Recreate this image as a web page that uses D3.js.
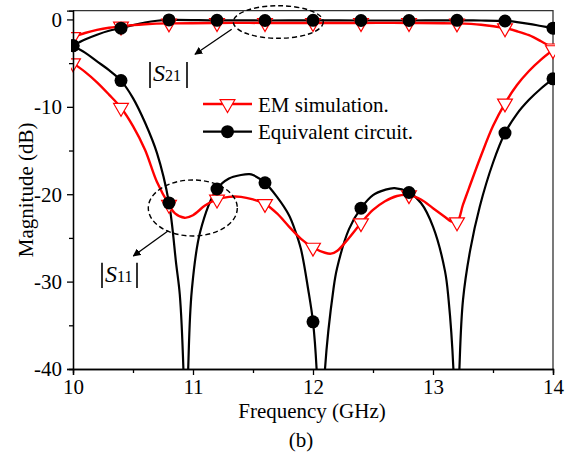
<!DOCTYPE html>
<html>
<head>
<meta charset="utf-8">
<script src="https://cdn.jsdelivr.net/npm/d3@7/dist/d3.min.js"></script>
<style>
body { margin: 0; background: #fff; }
svg text { font-family: "Liberation Serif", "Times New Roman", serif; fill: #000; }
</style>
</head>
<body>
<div id="graphic"></div>
<script>
// Data (GHz, dB)
var freqS21Em = [10, 10.1, 10.2, 10.3, 10.4, 10.5, 10.6, 10.8, 11.2, 11.6, 12.0, 12.4, 12.8, 13.2, 13.4, 13.6, 13.7, 13.8, 13.9, 14];
var valS21Em = [-2.0, -1.55, -1.2, -0.95, -0.8, -0.65, -0.55, -0.45, -0.4, -0.4, -0.4, -0.4, -0.4, -0.45, -0.6, -1.0, -1.35, -1.8, -2.5, -3.3];

var freqS21Eq = [10, 10.1, 10.2, 10.3, 10.4, 10.5, 10.6, 10.7, 10.8, 11.2, 11.6, 12.0, 12.4, 12.8, 13.2, 13.4, 13.6, 13.7, 13.8, 13.9, 14];
var valS21Eq = [-3.0, -2.3, -1.75, -1.3, -1.0, -0.65, -0.35, -0.15, -0.05, -0.1, -0.12, -0.1, -0.12, -0.12, -0.1, -0.12, -0.18, -0.3, -0.5, -0.75, -1.0];

var freqS11Em = [10, 10.1, 10.2, 10.3, 10.4, 10.5, 10.6, 10.7, 10.8, 10.85, 10.93, 11.0, 11.1, 11.2, 11.3, 11.4, 11.5, 11.6, 11.7, 11.8, 11.9, 12.0, 12.1, 12.15, 12.2, 12.3, 12.4, 12.5, 12.6, 12.7, 12.8, 12.9, 13.0, 13.1, 13.15, 13.2, 13.25, 13.3, 13.4, 13.5, 13.6, 13.7, 13.8, 13.9, 14];
var valS11Em = [-5.0, -6.0, -7.2, -8.6, -10.1, -12.2, -14.9, -18.6, -21.2, -22.2, -22.7, -22.4, -21.3, -20.6, -20.3, -20.3, -20.6, -21.1, -22.2, -23.7, -25.1, -26.1, -26.7, -26.8, -26.5, -25.0, -23.3, -21.8, -20.8, -20.2, -20.1, -20.6, -21.6, -22.6, -23.1, -23.2, -21.2, -19.3, -15.6, -12.2, -9.6, -7.5, -5.9, -4.6, -3.5];

var freqS11Eq = [10, 10.1, 10.2, 10.3, 10.4, 10.5, 10.6, 10.7, 10.8, 10.86, 10.89, 10.92, 10.94, 10.96, 10.99, 11.06, 11.2, 11.3, 11.4, 11.47, 11.5, 11.6, 11.7, 11.8, 11.85, 11.9, 11.96, 12.0, 12.03, 12.065, 12.1, 12.17, 12.2, 12.3, 12.4, 12.5, 12.6, 12.68, 12.8, 12.9, 13.0, 13.1, 13.13, 13.17, 13.195, 13.22, 13.25, 13.31, 13.39, 13.5, 13.6, 13.7, 13.8, 13.9, 14];
var valS11Eq = [-3.0, -3.8, -4.8, -5.8, -7.0, -9.0, -11.8, -15.3, -21.0, -28.0, -31.5, -40, -55, -40, -31, -24.3, -19.4, -18.2, -17.8, -17.7, -17.8, -18.7, -20.3, -22.4, -24.1, -26.3, -30.9, -34.6, -40, -55, -40, -30.9, -28.5, -24.0, -21.6, -20.1, -19.5, -19.3, -19.8, -21.0, -23.7, -28.8, -32.1, -40, -55, -40, -32.1, -26.4, -21.4, -16.4, -13.0, -10.8, -9.2, -7.9, -6.8];

var markerFreqs = [10, 10.4, 10.8, 11.2, 11.6, 12.0, 12.4, 12.8, 13.2, 13.6, 14];

var xTicks = [10, 11, 12, 13, 14];
var xMinorTicks = [10.5, 11.5, 12.5, 13.5];
var yTicks = [0, -10, -20, -30, -40];
var yMinorTicks = [-5, -15, -25, -35];

var legendLabels = ['EM simulation.', 'Equivalent circuit.'];

var RED = '#ff0000';
var FONT = '21px';

/*
 * Zip a frequency list and a value list into points.
 */
var toPoints = function(freqs, vals) {
    return freqs.map(function(f, i) { return { f: f, v: vals[i] }; });
}

var pickMarkers = function(points) {
    return points.filter(function(p) {
        return markerFreqs.some(function(m) { return Math.abs(m - p.f) < 1e-6; });
    });
}

/*
 * Render the graphic.
 */
var renderGraphic = function() {
    var width = 574,
        height = 453;

    var plot = { left: 73, right: 553, top: 10.7, bottom: 369 };

    var svg = d3.select('#graphic').append('svg')
        .attr('width', width)
        .attr('height', height);

    var xScale = d3.scaleLinear().domain([10, 14]).range([plot.left, plot.right]);
    var yScale = d3.scaleLinear().domain([-40, 1]).range([plot.bottom, plot.top]);

    svg.append('clipPath')
        .attr('id', 'plot-clip')
        .append('rect')
        .attr('x', plot.left)
        .attr('y', plot.top)
        .attr('width', plot.right - plot.left)
        .attr('height', plot.bottom - plot.top);

    svg.append('clipPath')
        .attr('id', 'marker-clip')
        .append('rect')
        .attr('x', plot.left - 2)
        .attr('y', plot.top)
        .attr('width', plot.right - plot.left + 4)
        .attr('height', plot.bottom - plot.top);

    // frame (top + right)
    svg.append('path')
        .attr('d', 'M' + plot.left + ',' + plot.top + 'H' + plot.right + 'V' + plot.bottom)
        .attr('fill', 'none')
        .attr('stroke', '#333')
        .attr('stroke-width', 1.3);

    var line = d3.line()
        .x(function(d) { return xScale(d.f); })
        .y(function(d) { return yScale(d.v); })
        .curve(d3.curveCatmullRom.alpha(0.5));

    var s21Em = toPoints(freqS21Em, valS21Em),
        s11Em = toPoints(freqS11Em, valS11Em),
        s21Eq = toPoints(freqS21Eq, valS21Eq),
        s11Eq = toPoints(freqS11Eq, valS11Eq);

    var lines = svg.append('g').attr('clip-path', 'url(#plot-clip)');

    [s21Eq, s11Eq].forEach(function(pts) {
        lines.append('path')
            .datum(pts)
            .attr('d', line)
            .attr('fill', 'none')
            .attr('stroke', '#000')
            .attr('stroke-width', 2.2);
    });

    [s21Em, s11Em].forEach(function(pts) {
        lines.append('path')
            .datum(pts)
            .attr('d', line)
            .attr('fill', 'none')
            .attr('stroke', RED)
            .attr('stroke-width', 2.4);
    });

    var tri = d3.symbol().type(d3.symbolTriangle).size(95);

    var markers = svg.append('g').attr('clip-path', 'url(#marker-clip)');

    markers.selectAll('path.tri')
        .data(pickMarkers(s21Em).concat(pickMarkers(s11Em)))
        .enter().append('path')
        .attr('class', 'tri')
        .attr('d', tri)
        .attr('transform', function(d) { return 'translate(' + xScale(d.f) + ',' + yScale(d.v) + ') rotate(180)'; })
        .attr('fill', '#fff')
        .attr('stroke', RED)
        .attr('stroke-width', 1.2);

    markers.selectAll('circle')
        .data(pickMarkers(s21Eq).concat(pickMarkers(s11Eq)))
        .enter().append('circle')
        .attr('cx', function(d) { return xScale(d.f); })
        .attr('cy', function(d) { return yScale(d.v); })
        .attr('r', 6.5)
        .attr('fill', '#000');

    // Axes
    var xAxis = svg.append('g')
        .attr('transform', 'translate(0,' + plot.bottom + ')')
        .call(d3.axisBottom(xScale).tickValues(xTicks).tickSize(6).tickFormat(d3.format('d')));
    xAxis.append('g').call(d3.axisBottom(xScale).tickValues(xMinorTicks).tickSize(4).tickFormat(''));

    var yAxis = svg.append('g')
        .attr('transform', 'translate(' + plot.left + ',0)')
        .call(d3.axisLeft(yScale).tickValues(yTicks).tickSize(6).tickFormat(function(d) { return d < 0 ? '-' + (-d) : d; }));
    yAxis.append('g').call(d3.axisLeft(yScale).tickValues(yMinorTicks).tickSize(4).tickFormat(''));

    svg.selectAll('.domain').attr('stroke', '#000').attr('stroke-width', 1.3);
    svg.selectAll('.tick line').attr('stroke', '#000').attr('stroke-width', 1.3);
    svg.selectAll('.tick text')
        .style('font-family', '"Liberation Serif", "Times New Roman", serif')
        .style('font-size', FONT)
        .attr('fill', '#000');
    xAxis.selectAll('.tick text').attr('y', 10).attr('dy', '0.71em');
    yAxis.selectAll('.tick text').attr('x', -11).attr('dy', '0.33em');

    // Axis titles
    svg.append('text')
        .attr('transform', 'translate(33,' + ((plot.top + plot.bottom) / 2) + ') rotate(-90)')
        .attr('text-anchor', 'middle')
        .style('font-size', FONT)
        .text('Magnitude (dB)');

    svg.append('text')
        .attr('x', 312)
        .attr('y', 418)
        .attr('text-anchor', 'middle')
        .style('font-size', FONT)
        .text('Frequency (GHz)');

    svg.append('text')
        .attr('x', 301)
        .attr('y', 447)
        .attr('text-anchor', 'middle')
        .style('font-size', FONT)
        .text('(b)');

    // Legend
    var legend = svg.append('g');
    var legendY = [104, 131.7];
    legendLabels.forEach(function(label, i) {
        var g = legend.append('g').attr('transform', 'translate(0,' + legendY[i] + ')');
        g.append('line')
            .attr('x1', 203).attr('x2', 252)
            .attr('stroke', i == 0 ? RED : '#000')
            .attr('stroke-width', i == 0 ? 2.4 : 2.2);
        if (i == 0) {
            g.append('path')
                .attr('d', tri)
                .attr('transform', 'translate(227.5,0) rotate(180)')
                .attr('fill', '#fff')
                .attr('stroke', RED)
                .attr('stroke-width', 1.2);
        } else {
            g.append('circle').attr('cx', 227.5).attr('r', 6.5).attr('fill', '#000');
        }
        g.append('text')
            .attr('x', 258)
            .attr('y', 7.5)
            .style('font-size', FONT)
            .text(label);
    });

    // Annotations: dashed ellipses, arrows and |S| labels
    svg.append('defs').append('marker')
        .attr('id', 'arrow')
        .attr('viewBox', '0 0 10 10')
        .attr('refX', 9).attr('refY', 5)
        .attr('markerWidth', 8).attr('markerHeight', 8)
        .attr('markerUnits', 'userSpaceOnUse')
        .attr('orient', 'auto')
        .append('path')
        .attr('d', 'M0,0L10,5L0,10z')
        .attr('fill', '#000');

    var notes = [
        { cx: 278.3, cy: 22, rx: 45, ry: 16.3, ax1: 231.7, ay1: 29.3, ax2: 195, ay2: 54.3,
          barL: 150, barR: 187, barTop: 62, barBot: 88, sx: 153, base: 81, sub: '21' },
        { cx: 192.8, cy: 208, rx: 44.5, ry: 28, ax1: 168.3, ay1: 230.7, ax2: 133.3, ay2: 256,
          barL: 102, barR: 137, barTop: 262.7, barBot: 288, sx: 105, base: 282, sub: '11' }
    ];

    notes.forEach(function(n) {
        svg.append('ellipse')
            .attr('cx', n.cx).attr('cy', n.cy)
            .attr('rx', n.rx).attr('ry', n.ry)
            .attr('fill', 'none')
            .attr('stroke', '#000')
            .attr('stroke-width', 1.4)
            .attr('stroke-dasharray', '5,3');

        svg.append('line')
            .attr('x1', n.ax1).attr('y1', n.ay1)
            .attr('x2', n.ax2).attr('y2', n.ay2)
            .attr('stroke', '#000')
            .attr('stroke-width', 1.3)
            .attr('marker-end', 'url(#arrow)');

        [n.barL, n.barR].forEach(function(bx) {
            svg.append('line')
                .attr('x1', bx).attr('x2', bx)
                .attr('y1', n.barTop).attr('y2', n.barBot)
                .attr('stroke', '#000')
                .attr('stroke-width', 1.6);
        });

        var t = svg.append('text')
            .attr('x', n.sx)
            .attr('y', n.base);
        t.append('tspan')
            .style('font-size', '24px')
            .style('font-style', 'italic')
            .text('S');
        t.append('tspan')
            .style('font-size', '16px')
            .text(n.sub);
    });
}

window.onload = renderGraphic;
</script>
</body>
</html>
